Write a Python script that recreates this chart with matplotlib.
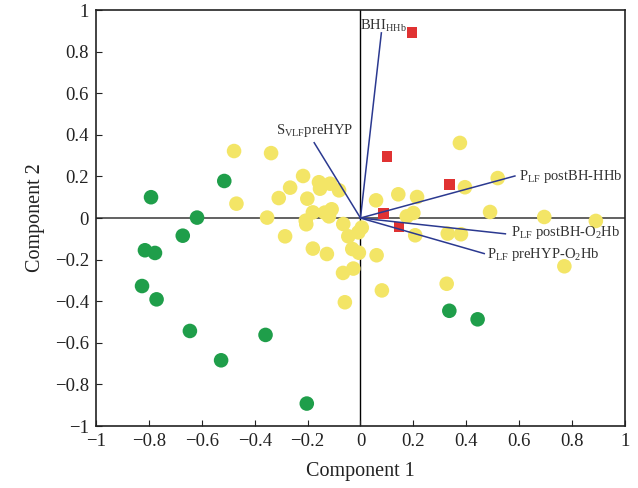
import numpy as np
import matplotlib.pyplot as plt
from matplotlib.ticker import FuncFormatter

plt.rcParams['font.family'] = ['Liberation Serif', 'DejaVu Serif']
plt.rcParams['mathtext.fontset'] = 'custom'
plt.rcParams['mathtext.rm'] = 'Liberation Serif'
plt.rcParams['mathtext.it'] = 'Liberation Serif'

# yellow group scores
yellow_x = [-0.478, -0.338, -0.217, -0.266, -0.157, -0.115, -0.153, -0.081, -0.309, -0.201,
            -0.469, -0.109, -0.180, -0.135, -0.119, -0.353, -0.207, -0.205, -0.065, 0.005,
            -0.008, -0.046, -0.285, -0.180, -0.031, -0.006, -0.127, -0.027, -0.066, -0.059,
            0.061, 0.059, 0.081, 0.376, 0.519, 0.395, 0.143, 0.214, 0.490, 0.200,
            0.175, 0.207, 0.330, 0.380, 0.326, 0.695, 0.890, 0.771]
yellow_y = [0.322, 0.312, 0.202, 0.146, 0.172, 0.165, 0.141, 0.133, 0.096, 0.093,
            0.069, 0.042, 0.027, 0.026, 0.008, 0.002, -0.013, -0.030, -0.029, -0.046,
            -0.069, -0.088, -0.088, -0.147, -0.149, -0.167, -0.173, -0.243, -0.264, -0.405,
            -0.179, 0.085, -0.348, 0.361, 0.192, 0.148, 0.114, 0.101, 0.029, 0.024,
            0.008, -0.083, -0.075, -0.078, -0.316, 0.005, -0.014, -0.232]

# green group scores
green_x = [-0.792, -0.515, -0.618, -0.672, -0.815, -0.777, -0.826, -0.771, -0.645, -0.527,
           -0.359, -0.203, 0.336, 0.443]
green_y = [0.100, 0.178, 0.002, -0.085, -0.155, -0.168, -0.327, -0.391, -0.543, -0.684,
           -0.562, -0.892, -0.446, -0.487]

# red group scores
red_x = [0.195, 0.101, 0.337, 0.086, 0.146]
red_y = [0.891, 0.295, 0.160, 0.023, -0.043]

# loading vectors
vec_names = [r'$\mathrm{BHI_{HHb}}$',
             r'$\mathrm{S_{VLF}}$preHYP',
             r'$\mathrm{P_{LF}}$ postBH-HHb',
             r'$\mathrm{P_{LF}}$ postBH-O$_2$Hb',
             r'$\mathrm{P_{LF}}$ preHYP-O$_2$Hb']
vec_x = [0.079, -0.175, 0.584, 0.548, 0.468]
vec_y = [0.890, 0.362, 0.202, -0.076, -0.171]

fig = plt.figure(figsize=(6.38, 4.88), dpi=100)
ax = fig.add_axes([0.1505, 0.127, 0.829, 0.8525])

ax.axhline(0, color='#555555', lw=1.3, zorder=1)
ax.axvline(0, color='black', lw=1.0, zorder=1)

for vx, vy in zip(vec_x, vec_y):
    ax.plot([0, vx], [0, vy], color='#2B3990', lw=1.1, zorder=4)

ax.scatter(yellow_x, yellow_y, s=110, color='#F3E566', edgecolors='none', zorder=2)
ax.scatter(green_x, green_y, s=110, color='#1F9E4A', edgecolors='none', zorder=3)
ax.scatter(red_x, red_y, s=58, marker='s', color='#E03232', edgecolors='none', zorder=3)

# label positions next to vector tips
lab_x = [0.0, -0.32, 0.60, 0.57, 0.48]
lab_y = [0.925, 0.42, 0.20, -0.07, -0.175]
for name, lx, ly in zip(vec_names, lab_x, lab_y):
    ax.text(lx, ly, name, fontsize=10.5, color='#333333', ha='left', va='center', zorder=5)

ax.set_xlim(-1, 1)
ax.set_ylim(-1, 1)
ticks = np.round(np.arange(-1, 1.01, 0.2), 1)
ax.set_xticks(ticks)
ax.set_yticks(ticks)


def tick_fmt(v, pos):
    if abs(v) < 1e-9:
        return '0'
    return ('%g' % v).replace('-', '\u2212')


ax.xaxis.set_major_formatter(FuncFormatter(tick_fmt))
ax.yaxis.set_major_formatter(FuncFormatter(tick_fmt))
ax.tick_params(direction='in', length=4, labelsize=13.5, colors='#222222', pad=5)
for sp in ax.spines.values():
    sp.set_linewidth(1.2)
    sp.set_color('#222222')

ax.set_xlabel('Component 1', fontsize=14.5, color='#222222', labelpad=9)
ax.set_ylabel('Component 2', fontsize=14.5, color='#222222', labelpad=7)

fig.savefig('out.png', dpi=100)
